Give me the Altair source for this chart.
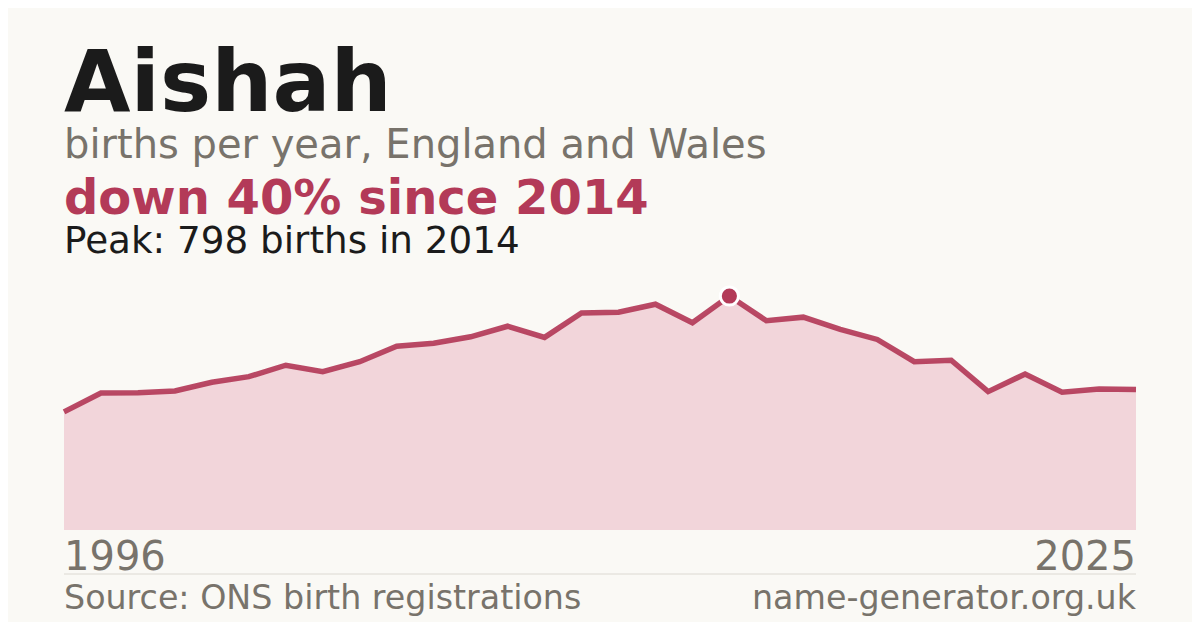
import altair as alt
import pandas as pd

years = list(range(1996, 2026))
births = [403, 467, 468, 474, 504, 523, 562, 540, 574, 627,
          637, 659, 695, 657, 740, 743, 770, 707, 798, 714,
          726, 684, 650, 574, 579, 472, 532, 470, 481, 479]

name = "Aishah"
subtitle = "births per year, England and Wales"
source = "Source: ONS birth registrations"
site = "name-generator.org.uk"

df = pd.DataFrame({"year": years, "births": births})
peak_i = births.index(max(births))
peak_year, peak_val = years[peak_i], births[peak_i]
change = round((births[-1] - peak_val) / peak_val * 100)
headline = f"{'down' if change < 0 else 'up'} {abs(change)}% since {peak_year}"
peak_text = f"Peak: {peak_val} births in {peak_year}"

BG = "#faf9f5"
RED = "#b33a58"
GREY = "#78736b"
DARK = "#1b1b1b"
FONT = "DejaVu Sans"

W, H = 1072, 258

x = alt.X("year:Q", scale=alt.Scale(domain=[years[0], years[-1]], nice=False), axis=None)
y = alt.Y("births:Q", scale=alt.Scale(domain=[0, 880], nice=False), axis=None)

base = alt.Chart(df)

area = base.mark_area(color="#f2d5da", opacity=1).encode(x=x, y=y)
line = base.mark_line(color=RED, strokeWidth=5.5, strokeJoin="miter", opacity=0.92).encode(x=x, y=y)
peak = alt.Chart(pd.DataFrame({"year": [peak_year], "births": [peak_val]})).mark_point(
    filled=True, fill=RED, stroke="white", strokeWidth=3, size=330, opacity=1, shape="circle"
).encode(x=x, y=y)

def txt(s, yv, size, color, weight="normal", align="left", xv=0):
    return alt.Chart(pd.DataFrame({"t": [s]})).mark_text(
        align=align, baseline="alphabetic", font=FONT, fontSize=size,
        fontWeight=weight, color=color
    ).encode(text="t:N", x=alt.value(xv), y=alt.value(yv))

title = txt(name, -161, 86, DARK, "bold")
sub = txt(subtitle, -114.5, 40, GREY)
head = txt(headline, -58, 48, RED, "bold")
pk = txt(peak_text, -19, 37.3, DARK)

ends = pd.DataFrame({"year": [years[0], years[-1]], "lab": [str(years[0]), str(years[-1])]})
start_lab = alt.Chart(ends.iloc[[0]]).mark_text(
    align="left", baseline="alphabetic", font=FONT, fontSize=40, color=GREY
).encode(x=x, text="lab:N", y=alt.value(298))
end_lab = alt.Chart(ends.iloc[[1]]).mark_text(
    align="right", baseline="alphabetic", font=FONT, fontSize=40, color=GREY
).encode(x=x, text="lab:N", y=alt.value(298))

sep = alt.Chart(pd.DataFrame({"a": [0]})).mark_rule(color="#dcd9d2", strokeWidth=1).encode(
    x=alt.value(0), x2=alt.value(W), y=alt.value(302)
)
src = txt(source, 337, 33.3, GREY)
st = txt(site, 337, 33.3, GREY, align="right", xv=W)

chart = alt.layer(area, line, peak, title, sub, head, pk, start_lab, end_lab, sep, src, st).properties(
    width=W, height=H,
    autosize=alt.AutoSizeParams(type="none"),
    padding={"left": 56, "top": 264, "right": 56, "bottom": 92},
    background=BG,
).configure_view(stroke=None)

chart.save("out.html", embed_options={"renderer": "svg", "actions": False})
